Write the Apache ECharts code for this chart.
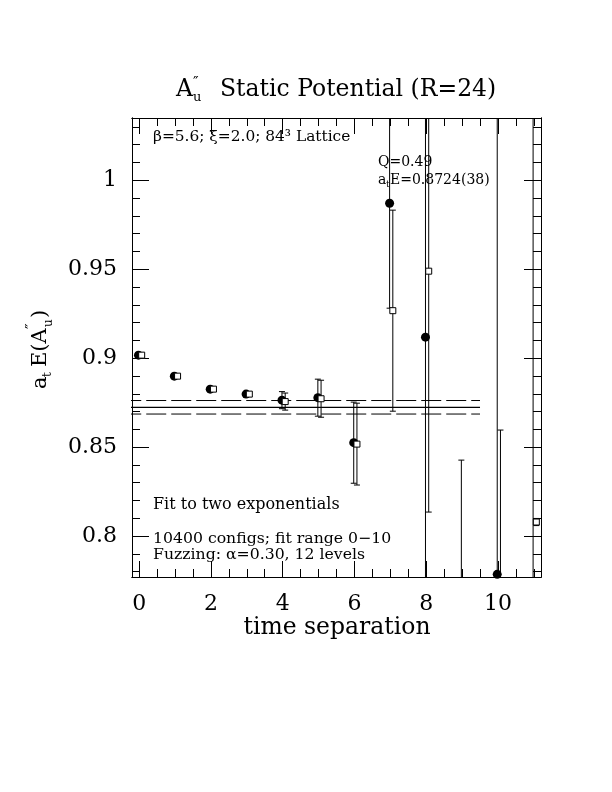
<!DOCTYPE html>
<html><head><meta charset="utf-8">
<script src="https://cdn.jsdelivr.net/npm/echarts@6/dist/echarts.min.js"></script>
<style>html,body{margin:0;padding:0;background:#fff}#c{width:612px;height:792px}</style>
</head><body><div id="c"></div>
<script>
// ---- data ----
const timeSep   = [0, 1, 2, 3, 4, 5, 6, 7, 8, 9, 10, 11];
const circleVal = [0.9017, 0.8899, 0.8826, 0.8798, 0.8764, 0.8778, 0.8525, 0.9871, 0.9118, 0.7500, 0.7785, 0.7500];
const circleErr = [0.0008, 0.0009, 0.0010, 0.0012, 0.0048, 0.0104, 0.0228, 0.0590, 0.2500, 0.0927, 0.3500, 0.4000];
const squareVal = [0.9017, 0.8899, 0.8826, 0.8798, 0.8756, 0.8772, 0.8517, 0.9267, 0.9489, null, 0.7000, 0.8079];
const squareErr = [0.0008, 0.0009, 0.0010, 0.0012, 0.0048, 0.0104, 0.0230, 0.0565, 0.1354, null, 0.1596, 0.0020];
const fitValue = 0.8724;
const fitErr = 0.0038;
const fitRange = [-0.5, 9.5];
const xMajorTicks = [0, 2, 4, 6, 8, 10];
const xMinorTicks = [0, 0.5, 1, 1.5, 2, 2.5, 3, 3.5, 4, 4.5, 5, 5.5, 6, 6.5, 7, 7.5, 8, 8.5, 9, 9.5, 10, 10.5, 11];
const yMajorTicks = [0.8, 0.85, 0.9, 0.95, 1.0];
const yMinorTicks = [0.78, 0.79, 0.80, 0.81, 0.82, 0.83, 0.84, 0.85, 0.86, 0.87, 0.88, 0.89, 0.90, 0.91, 0.92, 0.93, 0.94, 0.95, 0.96, 0.97, 0.98, 0.99, 1.00, 1.01, 1.02, 1.03];

// ---- chart ----
const FONT = 'DejaVu Serif';
const circleShift = -0.02, squareShift = 0.07;
const X_MIN = -0.2, X_MAX = 11.2, Y_MIN = 0.777, Y_MAX = 1.035;

const circlePts = [], squarePts = [], circleBars = [], squareBars = [];
timeSep.forEach((t, i) => {
  if (circleVal[i] != null) {
    circlePts.push([t + circleShift, circleVal[i]]);
    circleBars.push([t + circleShift, circleVal[i], circleErr[i]]);
  }
  if (squareVal[i] != null) {
    squarePts.push([t + squareShift, squareVal[i]]);
    squareBars.push([t + squareShift, squareVal[i], squareErr[i]]);
  }
});

function xAxisDef(pos, ticks, len, labels) {
  return {
    type: 'value', min: X_MIN, max: X_MAX, position: pos,
    axisLine: { show: true, onZero: false, lineStyle: { color: '#000', width: 1 } },
    axisTick: { show: true, inside: true, length: len, customValues: ticks, lineStyle: { color: '#000', width: 1 } },
    axisLabel: labels ? { show: true, customValues: ticks, margin: 16, color: '#000', fontFamily: FONT, fontSize: 22 } : { show: false },
    splitLine: { show: false }
  };
}
function yAxisDef(pos, ticks, len, labels) {
  return {
    type: 'value', min: Y_MIN, max: Y_MAX, position: pos,
    axisLine: { show: true, onZero: false, lineStyle: { color: '#000', width: 1 } },
    axisTick: { show: true, inside: true, length: len, customValues: ticks, lineStyle: { color: '#000', width: 1 } },
    axisLabel: labels ? { show: true, customValues: ticks, margin: 15, color: '#000', fontFamily: FONT, fontSize: 22 } : { show: false },
    splitLine: { show: false }
  };
}

function errorBarItem(params, api) {
  const x = api.value(0), y = api.value(1), e = api.value(2);
  const top = api.coord([x, y + e]);
  const bot = api.coord([x, y - e]);
  const w = 3;
  const st = { stroke: '#000', lineWidth: 1 };
  return {
    type: 'group',
    children: [
      { type: 'line', shape: { x1: top[0], y1: top[1], x2: bot[0], y2: bot[1] }, style: st },
      { type: 'line', shape: { x1: top[0] - w, y1: top[1], x2: top[0] + w, y2: top[1] }, style: st },
      { type: 'line', shape: { x1: bot[0] - w, y1: bot[1], x2: bot[0] + w, y2: bot[1] }, style: st }
    ]
  };
}

function txt(x, y, s, size, extra, align) {
  return Object.assign({
    type: 'text', x: x, y: y, silent: true,
    style: { text: s, fill: '#000', fontFamily: FONT, fontSize: size,
             align: align || 'left', verticalAlign: 'middle', textAlign: align || 'left', textVerticalAlign: 'middle' }
  }, extra || {});
}
const R = Math.PI / 2;

const option = {
  backgroundColor: '#fff',
  animation: false,
  grid: { left: 132, right: 71, top: 118, bottom: 215, containLabel: false },
  xAxis: [
    xAxisDef('bottom', xMajorTicks, 16, true),
    xAxisDef('bottom', xMinorTicks, 8, false),
    xAxisDef('top', xMajorTicks, 16, false),
    xAxisDef('top', xMinorTicks, 8, false)
  ],
  yAxis: [
    yAxisDef('left', yMajorTicks, 17, true),
    yAxisDef('left', yMinorTicks, 8, false),
    yAxisDef('right', yMajorTicks, 17, false),
    yAxisDef('right', yMinorTicks, 8, false)
  ],
  series: [
    { type: 'line', data: [[fitRange[0], fitValue], [fitRange[1], fitValue]], showSymbol: false, symbol: 'none',
      lineStyle: { color: '#000', width: 1.2 }, clip: true, z: 1 },
    { type: 'line', data: [[fitRange[0], fitValue + fitErr], [fitRange[1], fitValue + fitErr]], showSymbol: false, symbol: 'none',
      lineStyle: { color: '#000', width: 1, type: [20, 5] }, clip: true, z: 1 },
    { type: 'line', data: [[fitRange[0], fitValue - fitErr], [fitRange[1], fitValue - fitErr]], showSymbol: false, symbol: 'none',
      lineStyle: { color: '#000', width: 1, type: [20, 5] }, clip: true, z: 1 },
    { type: 'custom', renderItem: errorBarItem, data: circleBars, encode: { x: 0, y: 1 }, clip: true, z: 2 },
    { type: 'custom', renderItem: errorBarItem, data: squareBars, encode: { x: 0, y: 1 }, clip: true, z: 2 },
    { type: 'scatter', data: circlePts, symbol: 'circle', symbolSize: 9,
      itemStyle: { color: '#000', opacity: 1 }, clip: true, z: 3 },
    { type: 'scatter', data: squarePts, symbol: 'rect', symbolSize: 6,
      itemStyle: { color: '#fff', borderColor: '#000', borderWidth: 1, opacity: 1 }, clip: true, z: 4 }
  ],
  graphic: [
    // title
    txt(176, 90, 'A', 23.5),
    txt(193, 83, '\u2033', 15),
    txt(193, 98, 'u', 13),
    txt(220, 90, 'Static Potential (R=24)', 23.5),
    // x axis title
    txt(337, 628, 'time separation', 23.5, null, 'center'),
    // y axis title (rotated)
    txt(41, 389, 'a', 21, { rotation: R }),
    txt(48, 377, 't', 12, { rotation: R }),
    txt(41, 367, 'E(A', 21, { rotation: R }),
    txt(32, 329, '\u2033', 15, { rotation: R }),
    txt(49, 327, 'u', 12, { rotation: R }),
    txt(41, 318, ')', 21, { rotation: R }),
    // annotations
    txt(153, 137, '\u03b2=5.6; \u03be=2.0; 84\u00b3 Lattice', 15.4),
    txt(378, 162, 'Q=0.49', 14),
    txt(378, 180, 'a', 14),
    txt(386, 185, 't', 9),
    txt(390, 180, 'E=0.8724(38)', 14),
    txt(153, 505, 'Fit to two exponentials', 16),
    txt(153, 539, '10400 configs; fit range 0\u221210', 15.7),
    txt(153, 555, 'Fuzzing: \u03b1=0.30, 12 levels', 15.7)
  ]
};

const chart = echarts.init(document.getElementById('c'), null, { renderer: 'canvas' });
chart.setOption(option);
</script>
</body></html>
